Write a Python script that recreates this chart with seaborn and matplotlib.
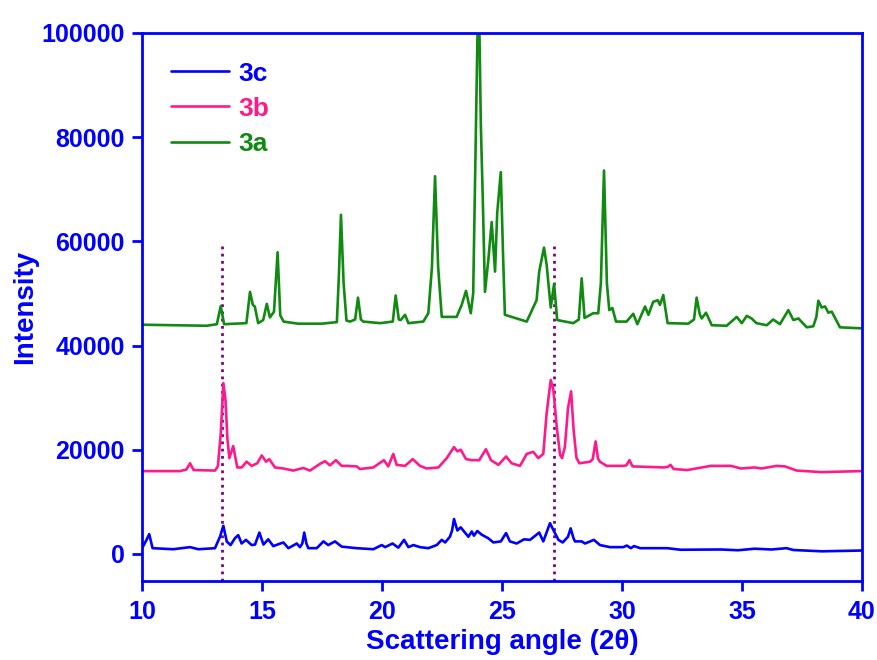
import matplotlib
matplotlib.use("Agg")
import matplotlib.pyplot as plt
import seaborn as sns
import pandas as pd
from matplotlib.lines import Line2D

# ---------------- data ----------------
x_3a = [10.0, 12.7, 13.12, 13.28, 13.42, 14.35, 14.5, 14.62, 14.7, 14.84, 15.05, 15.2, 15.33,
        15.5, 15.65, 15.76, 15.9, 16.5, 17.5, 18.12, 18.2, 18.29, 18.4, 18.52, 18.67, 18.88,
        19.0, 19.12, 19.22, 19.92, 20.45, 20.57, 20.7, 20.78, 20.96, 21.1, 21.72, 21.93, 22.08,
        22.21, 22.34, 22.49, 23.11, 23.32, 23.5, 23.7, 23.8, 23.9, 23.98, 24.06, 24.12, 24.2,
        24.29, 24.43, 24.57, 24.71, 24.8, 24.95, 25.04, 25.12, 26.03, 26.44, 26.55, 26.75, 26.86,
        27.03, 27.17, 27.3, 27.97, 28.2, 28.32, 28.44, 28.8, 29.01, 29.12, 29.25, 29.37, 29.47,
        29.6, 29.75, 30.19, 30.47, 30.64, 30.96, 31.1, 31.3, 31.49, 31.58, 31.72, 31.9, 32.76,
        33.0, 33.11, 33.24, 33.32, 33.5, 33.74, 34.36, 34.78, 34.99, 35.2, 35.4, 35.6, 36.03,
        36.3, 36.58, 36.93, 37.14, 37.35, 37.7, 37.97, 38.1, 38.18, 38.32, 38.46, 38.6, 38.74,
        39.08, 40.0]
y_3a = [44000, 43800, 44100, 47600, 44100, 44300, 50300, 47800, 47500, 44300, 44900, 48000, 45400,
        46500, 57900, 45800, 44600, 44200, 44200, 44500, 53000, 65100, 52000, 44800, 44600, 45000,
        49200, 45000, 44600, 44300, 44600, 49600, 45000, 44900, 45900, 44300, 44600, 46200, 55000,
        72500, 55000, 45500, 45500, 47800, 50500, 46200, 50100, 78000, 100000, 100000, 82000, 68000,
        50300, 56400, 63700, 54200, 65400, 73300, 58000, 45900, 44600, 48700, 54200, 58800, 55500,
        47300, 51800, 44900, 44300, 45000, 52900, 45300, 46200, 46200, 52000, 73600, 52000, 46800,
        47200, 44600, 44600, 46100, 44100, 47500, 45900, 48400, 48700, 47800, 49700, 44300, 44200,
        45000, 49200, 46000, 45200, 46300, 43900, 43800, 45500, 44300, 45700, 45200, 44300, 43900,
        45000, 44100, 46800, 44900, 45200, 43500, 43700, 45500, 48600, 47300, 47500, 46300, 46500,
        43500, 43300]

x_3b = [10.0, 11.58, 11.85, 12.0, 12.15, 13.04, 13.16, 13.28, 13.39, 13.48, 13.56, 13.64, 13.8,
        13.97, 14.15, 14.36, 14.57, 14.8, 14.99, 15.17, 15.3, 15.54, 15.89, 16.3, 16.72, 17.0,
        17.42, 17.63, 17.83, 18.08, 18.32, 18.53, 18.94, 19.08, 19.64, 20.08, 20.26, 20.47, 20.61,
        20.96, 21.28, 21.58, 21.86, 22.35, 22.7, 23.0, 23.14, 23.28, 23.5, 23.74, 24.05, 24.33,
        24.54, 24.85, 25.17, 25.4, 25.75, 26.03, 26.3, 26.51, 26.72, 26.86, 27.03, 27.14, 27.28,
        27.42, 27.5, 27.62, 27.75, 27.88, 27.98, 28.1, 28.22, 28.67, 28.78, 28.9, 29.0, 29.08,
        29.36, 30.05, 30.18, 30.31, 30.44, 31.74, 31.9, 32.02, 32.15, 32.72, 33.7, 34.54, 34.96,
        35.53, 35.81, 36.44, 36.79, 37.28, 38.33, 40.0]
y_3b = [15900, 15900, 16200, 17400, 16100, 16000, 16800, 23000, 32800, 29500, 22000, 18400, 20700,
        16600, 16600, 17700, 16900, 17400, 18900, 17700, 18200, 16600, 16400, 16000, 16500, 16000,
        17300, 17800, 17000, 18000, 16900, 16900, 16800, 16300, 16600, 18000, 16800, 19200, 17100,
        16900, 18200, 16900, 16400, 16600, 18400, 20500, 19700, 20000, 18200, 18000, 18000, 20100,
        18000, 17100, 18700, 17400, 16900, 19200, 19600, 18400, 19200, 27000, 33400, 31500, 24400,
        19000, 18400, 20500, 28000, 31200, 24000, 18500, 17400, 17700, 18200, 21600, 18300, 17700,
        16900, 16900, 17000, 18000, 16800, 16600, 16700, 17100, 16300, 16100, 16900, 16900, 16400,
        16600, 16400, 16900, 16800, 16000, 15700, 15900]

x_3c = [10.0, 10.05, 10.2, 10.3, 10.44, 11.3, 12.0, 12.35, 13.04, 13.25, 13.39, 13.53, 13.69,
        13.87, 14.01, 14.15, 14.33, 14.57, 14.71, 14.89, 15.06, 15.26, 15.47, 15.89, 16.1, 16.45,
        16.58, 16.68, 16.76, 16.85, 16.93, 17.28, 17.56, 17.76, 18.04, 18.32, 18.94, 19.64, 19.99,
        20.13, 20.44, 20.68, 20.92, 21.1, 21.31, 21.58, 21.93, 22.28, 22.49, 22.63, 22.83, 22.92,
        23.0, 23.14, 23.28, 23.42, 23.6, 23.74, 23.83, 23.97, 24.15, 24.43, 24.64, 24.95, 25.17,
        25.33, 25.61, 25.92, 26.17, 26.55, 26.72, 27.0, 27.14, 27.35, 27.53, 27.75, 27.86, 27.98,
        28.04, 28.32, 28.46, 28.83, 29.08, 29.5, 30.05, 30.2, 30.37, 30.5, 30.76, 31.88, 32.44,
        34.12, 34.83, 35.53, 36.23, 36.86, 37.14, 38.33, 40.0]
y_3c = [1200, 1500, 2800, 3800, 1100, 900, 1300, 900, 1100, 3300, 5400, 2400, 1700,
        3000, 3600, 2000, 2700, 1700, 1800, 4100, 1800, 2800, 1500, 2200, 1100, 2000,
        1300, 2000, 4100, 2000, 1100, 1100, 2400, 1700, 2400, 1400, 1100, 900, 1700,
        1300, 2000, 1200, 2700, 1300, 1700, 1300, 1100, 1700, 2700, 2200, 3300, 4500,
        6700, 4500, 5100, 4300, 3300, 4300, 3500, 4400, 3700, 3000, 2200, 2400, 4000,
        2400, 2000, 2800, 2700, 4100, 2400, 5900, 4600, 2700, 2200, 3300, 4900, 3000,
        2400, 2400, 2000, 2700, 1700, 1300, 1300, 1600, 1100, 1500, 1100, 1100, 800,
        850, 700, 1000, 850, 1100, 750, 500, 650]

series_names = ["3c", "3b", "3a"]
series_colors = ["#0000FF", "#FF1A8C", "#108A10"]
marker_angles = [13.35, 27.15]
marker_top = 59500

x_ticks = [10, 15, 20, 25, 30, 35, 40]
y_ticks = [0, 20000, 40000, 60000, 80000, 100000]

# ---------------- build table ----------------
frames = []
for name, xs, ys in [("3c", x_3c, y_3c), ("3b", x_3b, y_3b), ("3a", x_3a, y_3a)]:
    frames.append(pd.DataFrame({"angle": xs, "intensity": ys, "sample": name}))
df = pd.concat(frames, ignore_index=True)

sns.set_style("white")
plt.rcParams["font.family"] = ["Liberation Sans", "DejaVu Sans"]
plt.rcParams["font.weight"] = "bold"

fig = plt.figure(figsize=(8.77, 6.6), dpi=100)
fig.patch.set_facecolor("white")
ax = fig.add_axes([142 / 877, 79 / 660, 720 / 877, 548 / 660])

axis_blue = "#0000FF"
palette = dict(zip(series_names, series_colors))

sns.lineplot(data=df, x="angle", y="intensity", hue="sample", palette=palette,
             hue_order=series_names, sort=False, estimator=None, linewidth=1.9,
             legend=False, ax=ax)

ax.set_xlim(10, 40)
ax.set_ylim(-5200, 100000)

for xa in marker_angles:
    ax.plot([xa, xa], [-5200, marker_top], color="#800080", linewidth=2.0,
            linestyle=(0, (1, 1.6)), zorder=1)

ax.set_xticks(x_ticks)
ax.set_yticks(y_ticks)
ax.set_xticklabels([str(t) for t in x_ticks])
ax.set_yticklabels([str(t) for t in y_ticks])

for sp in ax.spines.values():
    sp.set_visible(True)
    sp.set_color(axis_blue)
    sp.set_linewidth(2.0)

ax.tick_params(axis="both", which="major", direction="out", length=7.5, width=2.0,
               color=axis_blue, labelcolor=axis_blue, labelsize=18)
ax.tick_params(axis="x", pad=6)
ax.tick_params(axis="y", pad=5)
ax.tick_params(top=False, right=False, bottom=True, left=True)
for lab in ax.get_xticklabels() + ax.get_yticklabels():
    lab.set_fontweight("bold")

ax.set_xlabel("Scattering angle (2θ)", fontsize=20, fontweight="bold", color=axis_blue, labelpad=4)
ax.set_ylabel("Intensity", fontsize=20, fontweight="bold", color=axis_blue, labelpad=2)

handles = [Line2D([0], [0], color=c, linewidth=1.9) for c in series_colors]
leg = ax.legend(handles, series_names, loc="upper left", bbox_to_anchor=(0.025, 0.967),
                frameon=False, handlelength=2.2, handletextpad=0.35,
                labelspacing=0.42, borderaxespad=0.0, prop={"weight": "bold", "size": 19})
for txt, c in zip(leg.get_texts(), series_colors):
    txt.set_color(c)

ax.set_facecolor("white")
fig.savefig("out.png", dpi=100)
